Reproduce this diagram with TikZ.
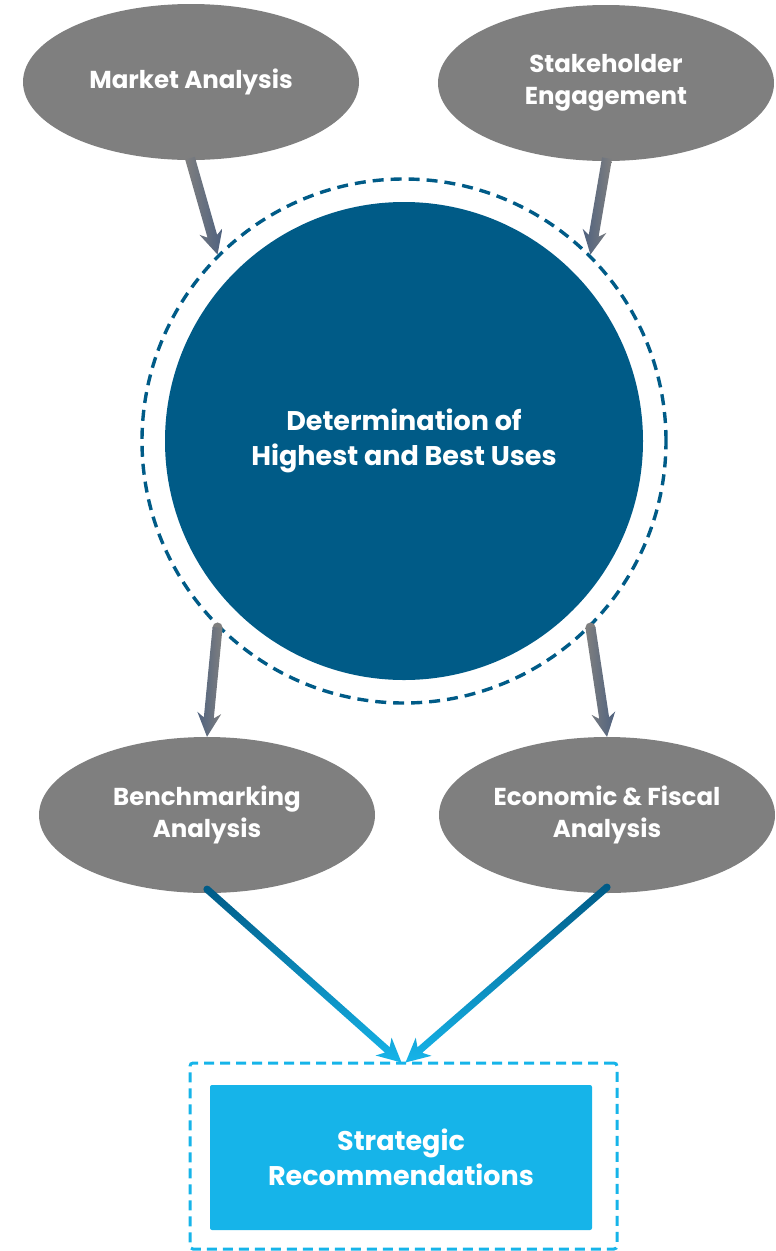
\documentclass[tikz,border=0pt]{standalone}
\usepackage{fontspec}
\setmainfont{Poppins}
\usetikzlibrary{calc,shapes.geometric}
\definecolor{ovalgray}{HTML}{7F7F7F}
\definecolor{deepblue}{HTML}{005B87}
\definecolor{skyblue}{HTML}{16B4E9}
\definecolor{slateblue}{HTML}{4F627F}

% Arrow drawn as a filled, shaded outline: start, end, half shaft width, shading keys, start colour
\newcommand{\flowarrow}[5]{%
  \coordinate (fa-h) at ($(#2)!24pt!(#1)$);
  \coordinate (fa-n) at ($(#2)!19pt!(#1)$);
  \fill[#5] (#1) circle (#3);
  \shade[#4] ($(#1)!#3!90:(#2)$) -- ($(fa-n)!#3!90:(#2)$) -- ($(fa-h)!12pt!90:(#2)$)
     -- (#2) -- ($(fa-h)!12pt!-90:(#2)$) -- ($(fa-n)!#3!-90:(#2)$) -- ($(#1)!#3!-90:(#2)$) -- cycle;
}

\begin{document}
\begin{tikzpicture}[x=1pt,y=-1pt,
  oval/.style={ellipse, fill=ovalgray, minimum width=336pt, minimum height=156pt,
    inner sep=0pt, text=white, align=center, font=\bfseries\fontsize{24.5}{32}\selectfont},
  hub/.style={circle, fill=deepblue, minimum size=478pt, inner sep=0pt, text=white,
    align=center, font=\bfseries\fontsize{27}{35}\selectfont},
  hubring/.style={circle, draw=deepblue, line width=3.4pt, dash pattern=on 11pt off 7pt,
    minimum size=524pt, inner sep=0pt},
  resultbox/.style={rectangle, rounded corners=2pt, fill=skyblue, minimum width=382pt,
    minimum height=145pt, inner sep=0pt, text=white, align=center,
    font=\bfseries\fontsize{27}{35}\selectfont},
  resultframe/.style={rectangle, rounded corners=3pt, draw=skyblue, line width=3pt,
    dash pattern=on 10pt off 6pt, minimum width=427pt, minimum height=186pt, inner sep=0pt}
]
\useasboundingbox (0,0) rectangle (776,1251);

% input ovals
\node[oval] (market) at (191,82) {Market Analysis};
\node[oval] (stake) at (606,83) {Stakeholder\\Engagement};

% central hub
\node[hubring] (ring) at (404,441) {};
\node[hub] (hub) at (404,441) {Determination of\\Highest and Best Uses};

% analysis ovals
\node[oval] (bench) at (207,815) {Benchmarking\\Analysis};
\node[oval] (econ) at (607,815) {Economic \& Fiscal\\Analysis};

% outcome
\node[resultframe] (frame) at (403.5,1156) {};
\node[resultbox] (result) at (401,1157.5) {Strategic\\Recommendations};

% arrow anchor points
\coordinate (m-out) at ($(market.south)+(-1,-2)$);
\coordinate (s-out) at ($(stake.south)+(1,-3)$);
\coordinate (b-out) at ($(bench.south)+(0,-4)$);
\coordinate (e-out) at ($(econ.south)+(0,-6)$);
\coordinate (r-in1) at ($(frame.north)+(-2,1)$);
\coordinate (r-in2) at ($(frame.north)+(2,1)$);

\flowarrow{m-out}{ring.135}{5pt}{left color=ovalgray, right color=slateblue}{ovalgray}
\flowarrow{s-out}{ring.45}{5pt}{left color=slateblue, right color=ovalgray}{ovalgray}
\flowarrow{ring.225}{bench.north}{5pt}{left color=slateblue, right color=ovalgray}{ovalgray}
\flowarrow{ring.315}{econ.north}{5pt}{left color=ovalgray, right color=slateblue}{ovalgray}
\flowarrow{b-out}{r-in1}{3.6pt}{top color=deepblue, bottom color=skyblue}{deepblue}
\flowarrow{e-out}{r-in2}{3.6pt}{top color=deepblue, bottom color=skyblue}{deepblue}
\end{tikzpicture}
\end{document}
